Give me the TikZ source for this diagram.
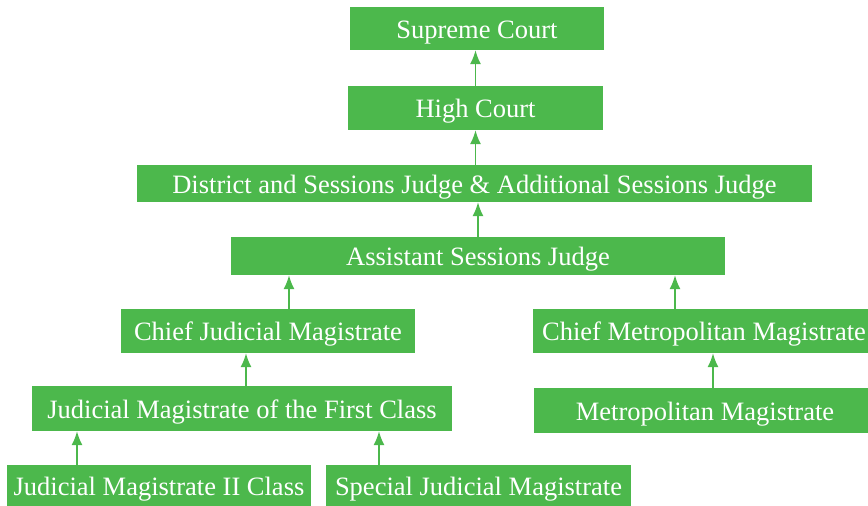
\documentclass[tikz,border=0pt]{standalone}
\usepackage{fontspec}
\setmainfont{Liberation Serif}
\usepackage{tikz}
\usetikzlibrary{
    arrows.meta,
    calc
}
\definecolor{courtgreen}{RGB}{76,184,76}

\begin{document}
\begin{tikzpicture}[x=1pt, y=1pt,
        court/.style={fill=courtgreen, text=white, inner sep=0pt, minimum height=44pt,
            text height=19pt, text depth=0pt, font=\fontsize{26.5}{30}\selectfont},
        up/.style={draw=courtgreen, line width=1.6pt, -{Latex[length=14pt, width=11pt]}}]
                        \useasboundingbox (0, 0) rectangle (868, -506);
                        \node[court, minimum width=254pt, minimum height=43pt] (sc) at (477, -28.5) {Supreme Court};
                        \node[court, minimum width=255pt] (hc) at (475.5, -108) {High Court};
                        \node[court, minimum width=675pt, minimum height=37pt] (dj) at (474.5, -183.5) {District and Sessions Judge \& Additional Sessions Judge};
                        \node[court, minimum width=494pt, minimum height=38pt] (asj) at (478, -256) {Assistant Sessions Judge};
                        \node[court, minimum width=294pt] (cjm) at (268, -331) {Chief Judicial Magistrate};
                        \node[court, minimum width=342pt] (cmm) at (704, -331) {Chief Metropolitan Magistrate};
                        \node[court, minimum width=420pt, minimum height=45pt] (jmfc) at (242, -408.5) {Judicial Magistrate of the First Class};
                        \node[court, minimum width=342pt, minimum height=45pt] (mm) at (705, -410.5) {Metropolitan Magistrate};
                        \node[court, minimum width=304pt, minimum height=42pt] (jm2) at (159, -486) {Judicial Magistrate II Class};
                        \node[court, minimum width=305pt, minimum height=42pt] (sjm) at (478.5, -486) {Special Judicial Magistrate};
                        % arrows point up the hierarchy
                        \draw[up] (hc.north) -- (hc.north |- sc.south);
                        \draw[up] (hc.south |- dj.north) -- (hc.south);
                        \draw[up] (asj.north) -- (asj.north |- dj.south);
                        \draw[up] ([xshift=21pt]cjm.north) -- ([xshift=21pt]cjm.north |- asj.south);
                        \draw[up] ([xshift=-29pt]cmm.north) -- ([xshift=-29pt]cmm.north |- asj.south);
                        \draw[up] ([xshift=4pt]jmfc.north) -- ([xshift=4pt]jmfc.north |- cjm.south);
                        \draw[up] ([xshift=8pt]mm.north) -- ([xshift=8pt]mm.north |- cmm.south);
                        \draw[up] ([xshift=-82pt]jm2.north) -- ([xshift=-82pt]jm2.north |- jmfc.south);
                        \draw[up] ([xshift=-99.5pt]sjm.north) -- ([xshift=-99.5pt]sjm.north |- jmfc.south);
                    \end{tikzpicture}
\end{document}
